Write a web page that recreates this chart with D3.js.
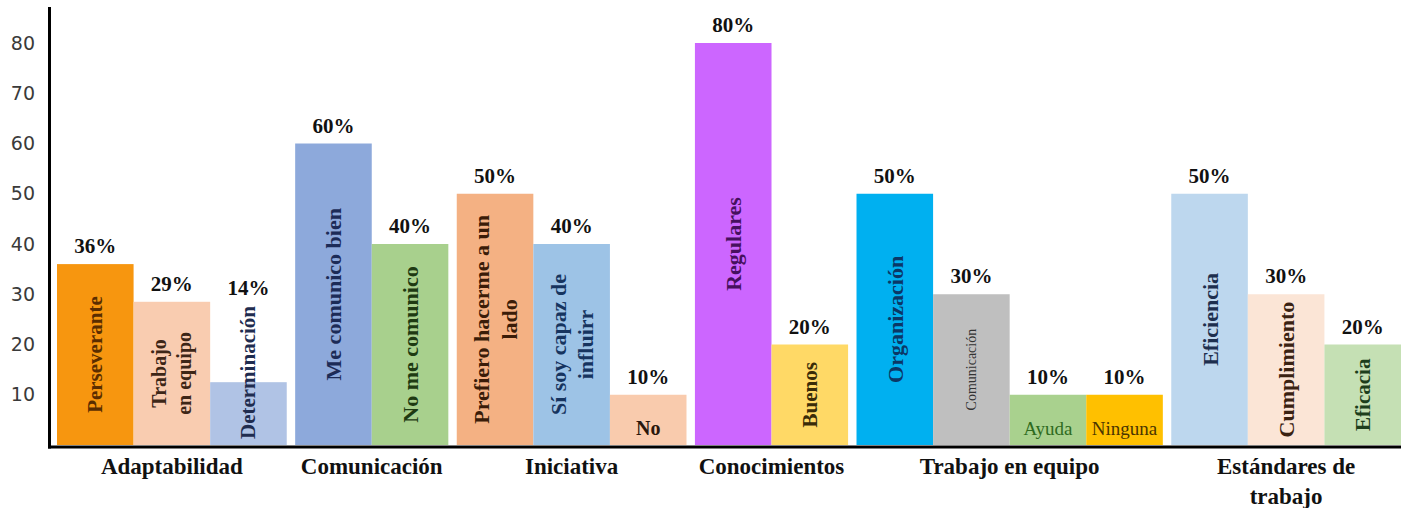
<!DOCTYPE html>
<html>
<head>
<meta charset="utf-8">
<script src="https://cdn.jsdelivr.net/npm/d3@7"></script>
<style>
  html, body { margin: 0; padding: 0; background: #ffffff; }
  svg { display: block; }
</style>
</head>
<body>
<svg id="chart" width="1411" height="508"></svg>
<script>
// ---------------- DATA ----------------
const groupNames = ["Adaptabilidad", "Comunicación", "Iniciativa", "Conocimientos", "Trabajo en equipo", "Estándares de\ntrabajo"];
const barGroup  = [0, 0, 0, 1, 1, 2, 2, 2, 3, 3, 4, 4, 4, 4, 5, 5, 5];
const barNames  = ["Perseverante", "Trabajo\nen equipo", "Determinación",
                   "Me comunico bien", "No me comunico",
                   "Prefiero hacerme a un\nlado", "Sí soy capaz de\ninfluirr", "No",
                   "Regulares", "Buenos",
                   "Organización", "Comunicación", "Ayuda", "Ninguna",
                   "Eficiencia", "Cumplimiento", "Eficacia"];
const barValues = [36, 28.5, 12.5, 60, 40, 50, 40, 10, 80, 20, 50, 30, 10, 10, 50, 30, 20];
const barPercentLabels = ["36%", "29%", "14%", "60%", "40%", "50%", "40%", "10%", "80%", "20%", "50%", "30%", "10%", "10%", "50%", "30%", "20%"];
const yTicks = [10, 20, 30, 40, 50, 60, 70, 80];

// ---------------- STYLES ----------------
const barFill = ["#F7960F", "#F9CCB0", "#B0C3E5", "#8DA9DB", "#A8D08D", "#F4B183", "#9DC3E6", "#F9CBAD",
                 "#CC66FF", "#FFD966", "#00B0F0", "#BFBFBF", "#A9D18E", "#FFC000", "#BDD7EE", "#FBE5D6", "#C5E0B4"];
const labelColor = ["#5A2D00", "#3D2617", "#1F2C4F", "#1C2B57", "#1E3A12", "#3A1C08", "#16345F", "#2A170C",
                    "#46105E", "#3A2C08", "#0B3766", "#333333", "#2E6B1E", "#4A3500", "#1E2F4E", "#3A2212", "#1D3E1C"];
const labelBold = [1, 1, 1, 1, 1, 1, 1, 1, 1, 1, 1, 0, 0, 0, 1, 1, 1];
const labelSize = [21, 20, 21, 22, 22, 22, 22, 20, 22, 21, 22, 14, 19, 19, 22, 22, 21];

const serif = "'Liberation Serif', 'Times New Roman', serif";
const W = 1411, H = 508;
const svg = d3.select("#chart");

// ---------------- SCALES ----------------
const y = d3.scaleLinear().domain([0, 80]).range([445, 43]);
const gapRatio = 0.11;
const nBars = barValues.length;
const slot = barValues.map((v, i) => i + barGroup[i] * gapRatio);
const x = d3.scaleLinear()
  .domain([0, nBars + (groupNames.length - 1) * gapRatio])
  .range([57, 1401]);

const bars = barValues.map((v, i) => ({
  i, v, x0: x(slot[i]), x1: x(slot[i] + 1), top: y(v), bottom: y(0)
}));

// ---------------- Y AXIS ----------------
const yAxis = d3.axisLeft(y).tickValues(yTicks).tickSize(0).tickPadding(14).tickFormat(d3.format("d"));
const gy = svg.append("g").attr("transform", "translate(49,0)").call(yAxis);
gy.select(".domain").remove();
gy.selectAll("text")
  .attr("font-family", "'DejaVu Sans', sans-serif")
  .attr("font-size", 19)
  .attr("fill", "#3a3a3a");

// ---------------- BARS ----------------
svg.append("g").selectAll("rect").data(bars).join("rect")
  .attr("x", d => d.x0)
  .attr("y", d => d.top)
  .attr("width", d => d.x1 - d.x0)
  .attr("height", d => d.bottom - d.top)
  .attr("fill", d => barFill[d.i]);

// ---------------- INNER LABELS ----------------
const inner = svg.append("g");
const textTops = [];
bars.forEach(d => {
  const lines = barNames[d.i].split("\n");
  const cx = (d.x0 + d.x1) / 2;
  const h = d.bottom - d.top;
  const t = inner.append("text")
    .attr("font-family", serif)
    .attr("font-size", labelSize[d.i])
    .attr("font-weight", labelBold[d.i] ? "bold" : "normal")
    .attr("fill", labelColor[d.i])
    .attr("text-anchor", "middle")
    .attr("dominant-baseline", "central");
  const lh = labelSize[d.i] * 1.25;
  lines.forEach((ln, k) => {
    t.append("tspan").attr("x", 0).attr("y", (k - (lines.length - 1) / 2) * lh).text(ln);
  });
  if (h < 60) {
    // horizontal label for short bars
    t.attr("transform", `translate(${cx},${d.bottom - 17})`);
    textTops.push(d.top);
  } else {
    let L = 0;
    t.selectAll("tspan").each(function () { L = Math.max(L, this.getComputedTextLength()); });
    let cy = (d.top + d.bottom) / 2;
    if (L > h - 10) cy = d.bottom - 6 - L / 2;
    t.attr("transform", `translate(${cx},${cy}) rotate(-90)`);
    textTops.push(Math.min(d.top, cy - L / 2));
  }
});

// ---------------- VALUE LABELS ----------------
svg.append("g").selectAll("text").data(bars).join("text")
  .attr("x", d => (d.x0 + d.x1) / 2)
  .attr("y", d => textTops[d.i] - 11)
  .attr("text-anchor", "middle")
  .attr("font-family", serif)
  .attr("font-size", 21)
  .attr("font-weight", "bold")
  .attr("fill", "#111")
  .text(d => barPercentLabels[d.i]);

// ---------------- AXIS LINES ----------------
svg.append("line").attr("x1", 49.5).attr("x2", 49.5).attr("y1", 7).attr("y2", 448.5)
  .attr("stroke", "#000").attr("stroke-width", 3);
svg.append("line").attr("x1", 48).attr("x2", 1401).attr("y1", 447).attr("y2", 447)
  .attr("stroke", "#000").attr("stroke-width", 3);

// ---------------- CATEGORY LABELS ----------------
const cat = svg.append("g");
groupNames.forEach((g, k) => {
  const members = bars.filter(d => barGroup[d.i] === k);
  const cx = (d3.min(members, d => d.x0) + d3.max(members, d => d.x1)) / 2;
  const t = cat.append("text")
    .attr("text-anchor", "middle")
    .attr("font-family", serif)
    .attr("font-size", 23)
    .attr("font-weight", "bold")
    .attr("fill", "#111");
  g.split("\n").forEach((ln, j) => {
    t.append("tspan").attr("x", cx).attr("y", 474 + j * 30).text(ln);
  });
});
</script>
</body>
</html>
